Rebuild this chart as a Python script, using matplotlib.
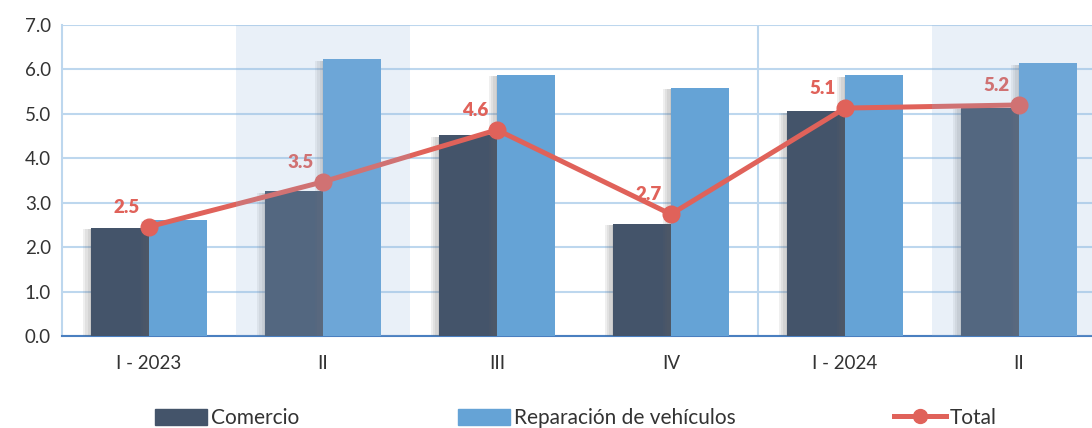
import matplotlib
matplotlib.use("Agg")
import matplotlib.pyplot as plt
import matplotlib.patheffects as pe
from matplotlib.lines import Line2D
from matplotlib.patches import Patch
import numpy as np

# Data
periods = ["I - 2023", "II", "III", "IV", "I - 2024", "II"]
comercio = [2.43, 3.26, 4.52, 2.52, 5.06, 5.13]
reparacion = [2.61, 6.23, 5.88, 5.58, 5.87, 6.14]
total = [2.46, 3.47, 4.64, 2.74, 5.13, 5.20]

dark = "#44546a"
light = "#65a3d6"
red = "#e0625a"
grid_c = "#bdd7ee"

plt.rcParams["font.family"] = ["Lato", "DejaVu Sans"]

fig = plt.figure(figsize=(10.92, 4.28), dpi=100)
ax = fig.add_axes([62 / 1092, 92 / 428, 1030 / 1092, 311 / 428])

x = np.arange(len(periods))
w = 1 / 3
# soft shadow faked with a few stacked offsets
shadow = [pe.SimplePatchShadow(offset=(-dx, -1), shadow_rgbFace="#666666", alpha=0.1)
          for dx in (1, 2.5, 4, 5.5)] + [pe.Normal()]

b1 = ax.bar(x - w / 2, comercio, w, color=dark, zorder=3)
b2 = ax.bar(x + w / 2, reparacion, w, color=light, zorder=3)
for b in list(b1) + list(b2):
    b.set_path_effects(shadow)

ax.plot(x, total, color=red, lw=3.6, marker="o", markersize=12, zorder=5)
for xi, v in zip(x, total):
    ax.annotate(f"{v:.1f}", (xi, v), xytext=(-16, 14), textcoords="offset points",
                ha="center", va="center", color=red, fontsize=13.5, fontweight="heavy",
                zorder=6)

# shaded half-year bands
for c in (1, 5):
    ax.axvspan(c - 0.5, c + 0.5, color=(145 / 255, 180 / 255, 220 / 255), alpha=0.2, lw=0, zorder=10)

ax.axvline(3.5, color=grid_c, lw=1.5, zorder=1)

ax.set_ylim(0, 7)
ax.set_xlim(-0.5, 5.42)
ax.set_yticks(np.arange(0, 7.01, 1))
ax.set_yticklabels([f"{t:.1f}" for t in np.arange(0, 7.01, 1)])
ax.set_xticks(x)
ax.set_xticklabels(periods)
ax.yaxis.grid(True, color=grid_c, lw=1.5, zorder=0)
ax.set_axisbelow(True)
ax.tick_params(axis="both", length=0, labelsize=13.5, colors="#333333")
ax.tick_params(axis="x", pad=14)
ax.tick_params(axis="y", pad=8)

for s in ("top", "right"):
    ax.spines[s].set_visible(False)
ax.spines["left"].set_color(grid_c)
ax.spines["left"].set_linewidth(1.5)
ax.spines["bottom"].set_color("#4a7fc0")
ax.spines["bottom"].set_linewidth(1.5)

handles = [
    Patch(color=dark, label="Comercio"),
    Patch(color=light, label="Reparación de vehículos"),
    Line2D([0], [0], color=red, lw=3.6, marker="o", markersize=10, label="Total"),
]
fig.legend(handles=handles, loc="center", bbox_to_anchor=(576 / 1092, 1 - 418 / 428), ncol=3,
           frameon=False, fontsize=15, handlelength=2.5, handleheight=0.8,
           columnspacing=7.6, handletextpad=0.2, labelcolor="#333333")

fig.savefig("out.png", dpi=100)
